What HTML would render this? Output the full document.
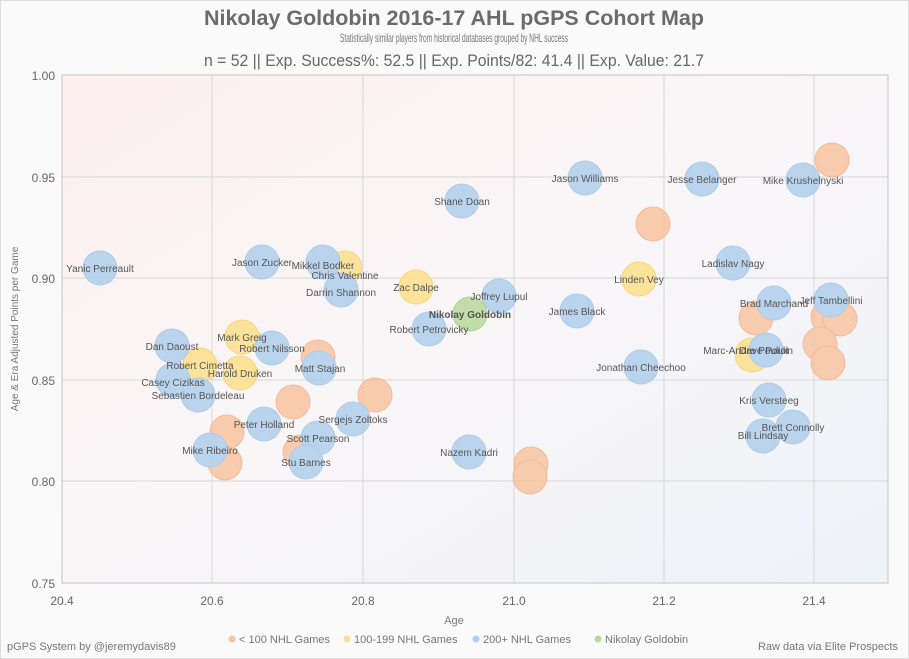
<!DOCTYPE html>
<html><head><meta charset="utf-8"><style>
html,body{margin:0;padding:0;background:#fafafa;}
svg{display:block;font-family:"Liberation Sans",sans-serif;}
</style></head><body>
<svg width="909" height="659" viewBox="0 0 909 659" xmlns="http://www.w3.org/2000/svg">
<defs>
<linearGradient id="bg" x1="0" y1="0" x2="1" y2="1">
<stop offset="0" stop-color="#fdf0ef"/><stop offset="0.5" stop-color="#f9f6f8"/><stop offset="1" stop-color="#eef2f9"/>
</linearGradient>
</defs>
<rect x="0.5" y="0.5" width="908" height="658" fill="#fafafa" stroke="#ddd"/>
<text x="454" y="25" text-anchor="middle" font-size="21" font-weight="bold" fill="#6b6b6b" textLength="500" lengthAdjust="spacingAndGlyphs">Nikolay Goldobin 2016-17 AHL pGPS Cohort Map</text>
<text x="454" y="42" text-anchor="middle" font-size="12" fill="#777" textLength="228" lengthAdjust="spacingAndGlyphs">Statistically similar players from historical databases grouped by NHL success</text>
<text x="454" y="66" text-anchor="middle" font-size="17" fill="#666" textLength="500" lengthAdjust="spacingAndGlyphs">n = 52 || Exp. Success%: 52.5 || Exp. Points/82: 41.4 || Exp. Value: 21.7</text>
<rect x="62" y="75" width="826" height="508" fill="url(#bg)"/>
<g stroke="#d8d8d8" stroke-width="1">
<line x1="62" y1="177" x2="888" y2="177"/><line x1="62" y1="278" x2="888" y2="278"/><line x1="62" y1="380" x2="888" y2="380"/><line x1="62" y1="481" x2="888" y2="481"/>
<line x1="212" y1="75" x2="212" y2="583"/><line x1="363" y1="75" x2="363" y2="583"/><line x1="514" y1="75" x2="514" y2="583"/><line x1="664" y1="75" x2="664" y2="583"/><line x1="814" y1="75" x2="814" y2="583"/>
</g>
<rect x="62" y="75" width="826" height="508" fill="none" stroke="#c4c4c4"/>
<g font-size="12" fill="#666" text-anchor="end">
<text x="55" y="80">1.00</text><text x="55" y="182">0.95</text><text x="55" y="283">0.90</text><text x="55" y="385">0.85</text><text x="55" y="486">0.80</text><text x="55" y="588">0.75</text>
</g>
<g font-size="12" fill="#666" text-anchor="middle">
<text x="62" y="605">20.4</text><text x="212" y="605">20.6</text><text x="363" y="605">20.8</text><text x="514" y="605">21.0</text><text x="664" y="605">21.2</text><text x="814" y="605">21.4</text>
</g>
<text x="454" y="624" text-anchor="middle" font-size="11" fill="#777">Age</text>
<text transform="translate(18,329) rotate(-90)" text-anchor="middle" font-size="10" fill="#777">Age &amp; Era Adjusted Points per Game</text>
<g stroke-width="1" opacity="0.85">
<g fill="#f8c4a0" stroke="#f2b28a">
<circle cx="832" cy="160" r="17"/><circle cx="653" cy="224" r="17"/><circle cx="756" cy="318" r="17"/><circle cx="828" cy="317" r="17"/><circle cx="840" cy="319" r="17"/><circle cx="820" cy="344" r="17"/><circle cx="828" cy="363" r="17"/><circle cx="318" cy="357" r="17"/><circle cx="293" cy="402" r="17"/><circle cx="375" cy="395" r="17"/><circle cx="227" cy="432" r="17"/><circle cx="225" cy="463" r="17"/><circle cx="531" cy="464" r="17"/><circle cx="530" cy="477" r="17"/><circle cx="300" cy="452" r="17"/>
</g>
<g fill="#fde08a" stroke="#f7d06a">
<circle cx="345" cy="268" r="17"/><circle cx="416" cy="287" r="17"/><circle cx="639" cy="279" r="17"/><circle cx="242" cy="337" r="17"/><circle cx="200" cy="365" r="17"/><circle cx="240" cy="373" r="17"/><circle cx="752" cy="355" r="17"/>
</g>
<g fill="#b1cfec" stroke="#a2c4e6">
<circle cx="100" cy="268" r="17"/><circle cx="262" cy="262" r="17"/><circle cx="323" cy="262" r="17"/><circle cx="341" cy="290" r="17"/><circle cx="462" cy="201" r="17"/><circle cx="585" cy="178" r="17"/><circle cx="702" cy="179" r="17"/><circle cx="803" cy="180" r="17"/><circle cx="733" cy="263" r="17"/><circle cx="774" cy="303" r="17"/><circle cx="831" cy="300" r="17"/><circle cx="499" cy="296" r="17"/><circle cx="429" cy="329" r="17"/><circle cx="577" cy="311" r="17"/><circle cx="641" cy="367" r="17"/><circle cx="766" cy="350" r="17"/><circle cx="769" cy="400" r="17"/><circle cx="793" cy="427" r="17"/><circle cx="763" cy="436" r="17"/><circle cx="172" cy="346" r="17"/><circle cx="173" cy="380" r="17"/><circle cx="198" cy="395" r="17"/><circle cx="272" cy="348" r="17"/><circle cx="319" cy="368" r="17"/><circle cx="353" cy="419" r="17"/><circle cx="318" cy="438" r="17"/><circle cx="264" cy="424" r="17"/><circle cx="210" cy="450" r="17"/><circle cx="306" cy="462" r="17"/><circle cx="469" cy="452" r="17"/>
</g>
<circle cx="470" cy="314" r="17" fill="#b9d99a" stroke="#a6cc86"/>
</g>
<g font-size="10" fill="#555" text-anchor="middle">
<text x="100" y="272">Yanic Perreault</text>
<text x="262" y="266">Jason Zucker</text>
<text x="323" y="269">Mikkel Bodker</text>
<text x="345" y="279">Chris Valentine</text>
<text x="341" y="296">Darrin Shannon</text>
<text x="462" y="205">Shane Doan</text>
<text x="585" y="182">Jason Williams</text>
<text x="702" y="183">Jesse Belanger</text>
<text x="803" y="184">Mike Krushelnyski</text>
<text x="733" y="267">Ladislav Nagy</text>
<text x="639" y="283">Linden Vey</text>
<text x="416" y="291">Zac Dalpe</text>
<text x="499" y="300">Joffrey Lupul</text>
<text x="470" y="318" font-weight="bold">Nikolay Goldobin</text>
<text x="429" y="333">Robert Petrovicky</text>
<text x="577" y="315">James Black</text>
<text x="774" y="307">Brad Marchand</text>
<text x="831" y="304">Jeff Tambellini</text>
<text x="746" y="354">Marc-Andre Pouliot</text>
<text x="766" y="354">Dave Poulin</text>
<text x="641" y="371">Jonathan Cheechoo</text>
<text x="769" y="404">Kris Versteeg</text>
<text x="793" y="431">Brett Connolly</text>
<text x="763" y="439">Bill Lindsay</text>
<text x="172" y="350">Dan Daoust</text>
<text x="200" y="369">Robert Cimetta</text>
<text x="173" y="386">Casey Cizikas</text>
<text x="198" y="399">Sebastien Bordeleau</text>
<text x="242" y="341">Mark Greig</text>
<text x="272" y="352">Robert Nilsson</text>
<text x="240" y="377">Harold Druken</text>
<text x="320" y="372">Matt Stajan</text>
<text x="353" y="423">Sergejs Zoltoks</text>
<text x="318" y="442">Scott Pearson</text>
<text x="264" y="428">Peter Holland</text>
<text x="210" y="454">Mike Ribeiro</text>
<text x="306" y="466">Stu Barnes</text>
<text x="469" y="456">Nazem Kadri</text>
</g>
<g font-size="11" fill="#777">
<text x="7" y="650">pGPS System by @jeremydavis89</text>
<text x="898" y="650" text-anchor="end">Raw data via Elite Prospects</text>
<circle cx="232" cy="639" r="3.5" fill="#f8c4a0"/><text x="239" y="643">&lt; 100 NHL Games</text>
<circle cx="347" cy="639" r="3.5" fill="#fde08a"/><text x="354" y="643">100-199 NHL Games</text>
<circle cx="476" cy="639" r="3.5" fill="#b1cfec"/><text x="483" y="643">200+ NHL Games</text>
<circle cx="598" cy="639" r="3.5" fill="#b9d99a"/><text x="605" y="643">Nikolay Goldobin</text>
</g>
</svg>
</body></html>
